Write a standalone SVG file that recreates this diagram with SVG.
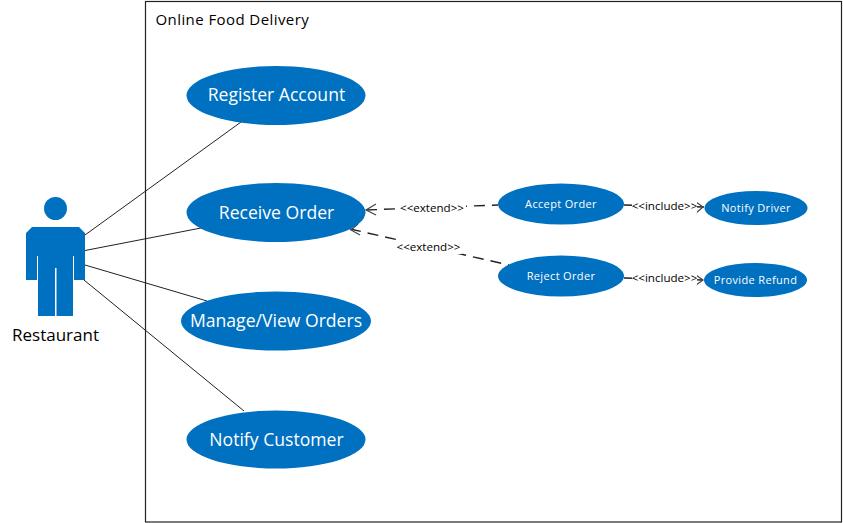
<svg xmlns="http://www.w3.org/2000/svg" width="843" height="523" viewBox="0 0 843 523">
<style>
.uc{fill:#0070c0}
.lg{font-family:"Open Sans","Noto Sans",sans-serif;font-size:17.600px;fill:#fff;text-anchor:middle}
.sm{font-family:"Open Sans","Noto Sans",sans-serif;font-size:11px;letter-spacing:.35px;fill:#fff;text-anchor:middle}
.st{font-family:"Open Sans","Noto Sans",sans-serif;font-size:11.600px;fill:#000;text-anchor:middle}
.c{stroke:#222;stroke-width:1;fill:none}
.d{stroke:#222;stroke-width:1.4;fill:none;stroke-dasharray:11 7}
.i{stroke:#222;stroke-width:1.4;fill:none}
.a{stroke:#444;stroke-width:1.2;fill:none}
.lb{fill:#fff}
</style>
<rect width="843" height="523" fill="#fff"/>
<g id="system">
<rect x="145.500" y="1.500" width="696" height="520.500" fill="#fff" stroke="#222" stroke-width="1.200"/>
<text x="155.500" y="25" font-family="Open Sans,Noto Sans,sans-serif" font-size="15" letter-spacing=".42" fill="#000">Online Food Delivery</text>
</g>
<g id="connectors">
<path class="c" d="M85 235L241 122M85 250.500L201 228M85 265L207 301M84 280L244 411"/>
<path class="d" d="M366 210L498 205"/>
<path class="a" d="M376 204L366 210L376 215"/>
<path class="d" d="M350 229L509 265"/>
<path class="a" d="M358 224L351 230L360 235"/>
<path class="i" d="M624 205L704 207M624 278L703 280"/>
<path class="a" d="M696 202L703 207L696 213M696 275L703 280L696 285"/>
<rect class="lb" x="399" y="201" width="67" height="14"/>
<rect class="lb" x="396" y="240" width="66" height="14"/>
<rect class="lb" x="632" y="199" width="65" height="14"/>
<rect class="lb" x="632" y="271" width="65" height="14"/>
<text class="st" x="432" y="212">&lt;&lt;extend&gt;&gt;</text>
<text class="st" x="428.500" y="251">&lt;&lt;extend&gt;&gt;</text>
<text class="st" x="664.500" y="210">&lt;&lt;include&gt;&gt;</text>
<text class="st" x="664.500" y="282">&lt;&lt;include&gt;&gt;</text>
</g>
<g id="actor-restaurant">
<circle class="uc" cx="55.500" cy="208.500" r="11.500"/>
<path class="uc" d="M32 227H79L85 233V280H74V256H73V316H56.500V268H55V316H38V256H37V280H26V233Z"/>
<text x="55.500" y="340.500" font-family="Open Sans,Noto Sans,sans-serif" font-size="17" fill="#000" text-anchor="middle">Restaurant</text>
</g>
<g id="uc-register"><ellipse class="uc" cx="276" cy="95.500" rx="89.500" ry="29.500"/><text class="lg" x="276.500" y="101">Register Account</text></g>
<g id="uc-receive"><ellipse class="uc" cx="276" cy="212.500" rx="89.500" ry="29.500"/><text class="lg" x="276.500" y="218.500">Receive Order</text></g>
<g id="uc-manage"><ellipse class="uc" cx="276" cy="321" rx="95" ry="29.500"/><text class="lg" x="276" y="327">Manage/View Orders</text></g>
<g id="uc-notify"><ellipse class="uc" cx="276" cy="439.500" rx="89.500" ry="29"/><text class="lg" x="276.500" y="446">Notify Customer</text></g>
<g id="uc-accept"><ellipse class="uc" cx="561" cy="204" rx="63" ry="20.500"/><text class="sm" x="561" y="208">Accept Order</text></g>
<g id="uc-reject"><ellipse class="uc" cx="561" cy="276" rx="63" ry="20.500"/><text class="sm" x="561" y="280">Reject Order</text></g>
<g id="uc-driver"><ellipse class="uc" cx="756" cy="208" rx="51.500" ry="17"/><text class="sm" x="756" y="212">Notify Driver</text></g>
<g id="uc-refund"><ellipse class="uc" cx="755.500" cy="280" rx="51.500" ry="17"/><text class="sm" x="755.500" y="284">Provide Refund</text></g>
</svg>
